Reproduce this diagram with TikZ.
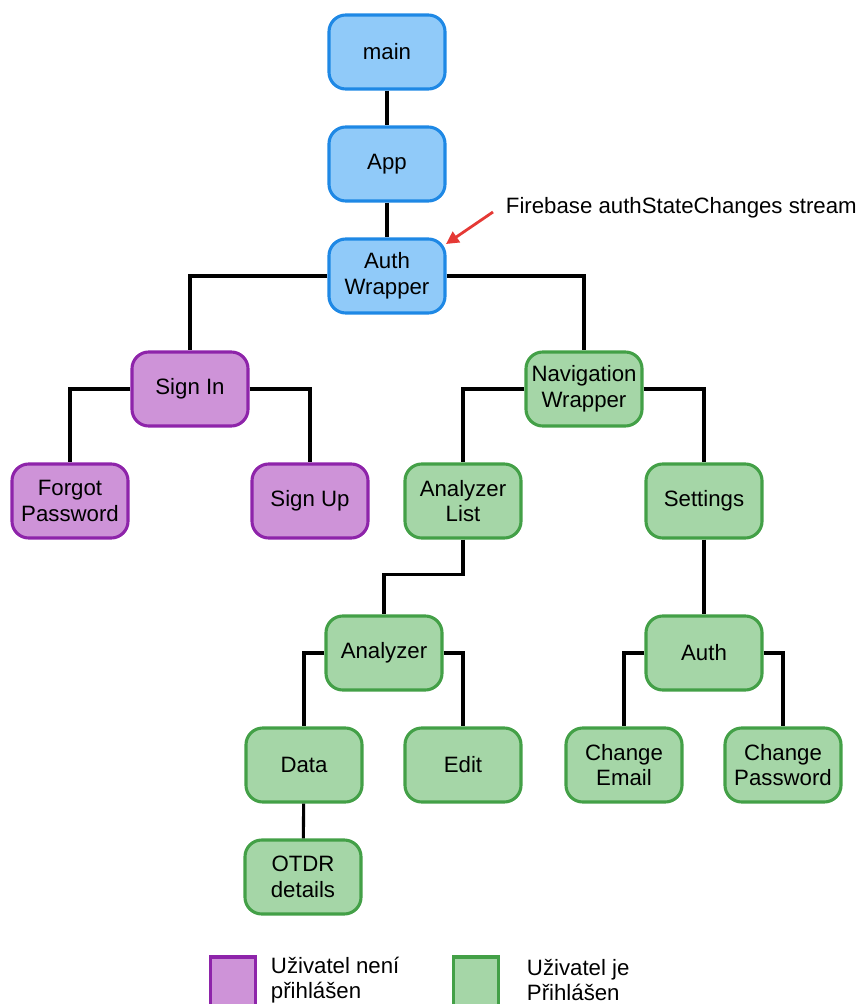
\documentclass[tikz,border=0pt]{standalone}
\usepackage{fontspec}
\setmainfont{Liberation Sans}
\usetikzlibrary{arrows.meta, positioning}

\definecolor{bluefill}{HTML}{90CAF9}
\definecolor{blueline}{HTML}{1E88E5}
\definecolor{purplefill}{HTML}{CE93D8}
\definecolor{purpleline}{HTML}{8E24AA}
\definecolor{greenfill}{HTML}{A5D6A7}
\definecolor{greenline}{HTML}{43A047}
\definecolor{arrowred}{HTML}{E53935}

\begin{document}
\begin{tikzpicture}[x=0.025cm, y=-0.025cm,
    box/.style={rectangle, rounded corners=0.42cm, line width=2.2pt, minimum width=2.9cm, minimum height=1.85cm, align=center, font=\fontsize{15.8}{18.2}\selectfont},
    authbox/.style={box, draw=blueline, fill=bluefill},
    outbox/.style={box, draw=purpleline, fill=purplefill},
    inbox/.style={box, draw=greenline, fill=greenfill},
    link/.style={line width=2.2pt, black},
    keybox/.style={line width=2.2pt, minimum width=1.12cm, minimum height=1.3cm}]
    \useasboundingbox (0,0) rectangle (861,1004);

    \node[authbox] (main) at (387,52) {main};
    \node[authbox] (app) at (387,164) {App};
    \node[authbox] (authw) at (387,276) {Auth\\Wrapper};

    \node[outbox] (signin) at (190,389) {Sign In};
    \node[outbox] (forgot) at (70,501) {Forgot\\Password};
    \node[outbox] (signup) at (310,501) {Sign Up};

    \node[inbox] (navw) at (584,389) {Navigation\\Wrapper};
    \node[inbox] (alist) at (463,501) {Analyzer\\List};
    \node[inbox] (settings) at (704,501) {Settings};
    \node[inbox] (analyzer) at (384,653) {Analyzer};
    \node[inbox] (auth) at (704,653) {Auth};
    \node[inbox] (data) at (304,765) {Data};
    \node[inbox] (edit) at (463,765) {Edit};
    \node[inbox] (email) at (624,765) {Change\\Email};
    \node[inbox] (passwd) at (783,765) {Change\\Password};
    \node[inbox] (otdr) at (303,877) {OTDR\\details};

    \draw[link] (main) -- (app);
    \draw[link] (app) -- (authw);
    \draw[link] (authw.west) -| (signin.north);
    \draw[link] (authw.east) -| (navw.north);
    \draw[link] (signin.west) -| (forgot.north);
    \draw[link] (signin.east) -| (signup.north);
    \draw[link] (navw.west) -| (alist.north);
    \draw[link] (navw.east) -| (settings.north);
    \draw[link] (alist.south) -- ++(0,35) -| (analyzer.north);
    \draw[link] (settings) -- (auth);
    \draw[link] (analyzer.west) -| (data.north);
    \draw[link] (analyzer.east) -| (edit.north);
    \draw[link] (auth.west) -| (email.north);
    \draw[link] (auth.east) -| (passwd.north);
    \draw[link] (data) -- (otdr);

    % firebase stream note
    \node[anchor=west, font=\fontsize{15.8}{18.2}\selectfont] (fb) at (501,208) {Firebase authStateChanges stream};
    \coordinate (fbstart) at (493,212);
    \coordinate (fbtip) at (446,244);
    \draw[arrowred, line width=2pt, -{Triangle[length=9pt, width=9pt]}] (fbstart) -- (fbtip);

    % legend
    \node[keybox, draw=purpleline, fill=purplefill] (keyout) at (233,983) {};
    \node[anchor=west, align=left, font=\fontsize{15.8}{18.2}\selectfont] (keyouttext) at (266,980) {Uživatel není\\přihlášen};
    \node[keybox, draw=greenline, fill=greenfill] (keyin) at (476,983) {};
    \node[anchor=west, align=left, font=\fontsize{15.8}{18.2}\selectfont] (keyintext) at (522,980) {Uživatel je\\Přihlášen};
\end{tikzpicture}
\end{document}
